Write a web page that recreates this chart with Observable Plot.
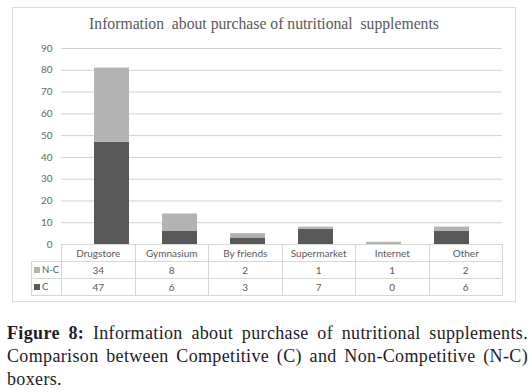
<!DOCTYPE html>
<html>
<head>
<meta charset="utf-8">
<script src="https://cdn.jsdelivr.net/npm/d3@7"></script>
<script src="https://cdn.jsdelivr.net/npm/@observablehq/plot@0.6"></script>
<style>
  html, body { margin: 0; padding: 0; background: #fff; }
  #wrap { position: relative; width: 532px; height: 392px; overflow: hidden; }
  #box { position: absolute; left: 12px; top: 7px; width: 504px; height: 295px; box-sizing: border-box; border: 1px solid #dcdcdc; }
  #title { position: absolute; left: 12px; width: 504px; top: 15px; text-align: center; font-family: "Liberation Serif", serif; font-size: 15.7px; line-height: 18px; color: #595959; white-space: pre; }
  #plot { position: absolute; left: 0; top: 40px; }
  #tbl { position: absolute; left: 31px; top: 244px; border-collapse: collapse; table-layout: fixed; font-family: Lato, sans-serif; font-size: 10px; color: #595959; }
  #tbl td { border: 1px solid #d3dad0; text-align: center; height: 16px; padding: 0; line-height: 16px; white-space: nowrap; overflow: hidden; }
  #tbl td.leg { text-align: left; padding-left: 2px; font-size: 9.5px; }
  #tbl td.blank { border-top: none; border-left: none; }
  .sw { display: inline-block; width: 6px; height: 6px; margin-right: 2px; vertical-align: 0px; }
  #caption { position: absolute; left: 7px; top: 322px; width: 521px; font-family: "Liberation Serif", serif; font-size: 18px; letter-spacing: 0.35px; line-height: 23px; color: #1c1c28; }
  #caption div { text-align: justify; text-align-last: justify; white-space: nowrap; }
  #caption div.last { text-align-last: left; }
</style>
</head>
<body>
<div id="wrap">
  <div id="box"></div>
  <div id="title"></div>
  <div id="plot"></div>
  <table id="tbl"></table>
  <div id="caption">
    <div><b>Figure 8:</b> Information about purchase of nutritional supplements.</div>
    <div>Comparison between Competitive (C) and Non-Competitive (N-C)</div>
    <div class="last">boxers.</div>
  </div>
</div>
<script>
const titleText = "Information  about purchase of nutritional  supplements";
const categories = ["Drugstore", "Gymnasium", "By friends", "Supermarket", "Internet", "Other"];
const seriesNames = ["N-C", "C"];
const valuesNC = [34, 8, 2, 1, 1, 2];
const valuesC = [47, 6, 3, 7, 0, 6];
const yTicks = [0, 10, 20, 30, 40, 50, 60, 70, 80, 90];
const seriesColors = {"C": "#595959", "N-C": "#b3b3b3"};

document.getElementById("title").textContent = titleText;

const data = categories.flatMap((c, i) => [
  {category: c, series: "C", value: valuesC[i]},
  {category: c, series: "N-C", value: valuesNC[i]}
]);

const chart = Plot.plot({
  width: 532,
  height: 210,
  marginLeft: 61,
  marginRight: 30,
  marginTop: 8,
  marginBottom: 6,
  x: {domain: categories, padding: 0.48, axis: null},
  y: {domain: [0, 90], label: null},
  color: {domain: ["C", "N-C"], range: [seriesColors["C"], seriesColors["N-C"]]},
  style: {fontFamily: "Lato, sans-serif", fontSize: "10px", color: "#595959", background: "transparent"},
  marks: [
    Plot.gridY(yTicks.filter(d => d > 0), {stroke: "#cdd6ca", strokeOpacity: 1}),
    Plot.barY(data, {x: "category", y: "value", fill: "series"}),
    Plot.axisY(yTicks, {tickSize: 0, tickPadding: 9, label: null, fill: "#666666", fontSize: 10})
  ]
});
document.getElementById("plot").appendChild(chart);

// data table
const tbl = document.getElementById("tbl");
const colgroup = document.createElement("colgroup");
[30, ...categories.map(() => 73.5)].forEach(w => {
  const col = document.createElement("col");
  col.style.width = w + "px";
  colgroup.appendChild(col);
});
tbl.appendChild(colgroup);

const head = document.createElement("tr");
const blank = document.createElement("td");
blank.className = "blank";
head.appendChild(blank);
categories.forEach(c => {
  const td = document.createElement("td");
  td.textContent = c;
  head.appendChild(td);
});
tbl.appendChild(head);

const rows = {"N-C": valuesNC, "C": valuesC};
seriesNames.forEach(s => {
  const tr = document.createElement("tr");
  const leg = document.createElement("td");
  leg.className = "leg";
  const sw = document.createElement("span");
  sw.className = "sw";
  sw.style.background = seriesColors[s];
  leg.appendChild(sw);
  leg.appendChild(document.createTextNode(s));
  tr.appendChild(leg);
  rows[s].forEach(v => {
    const td = document.createElement("td");
    td.textContent = v;
    tr.appendChild(td);
  });
  tbl.appendChild(tr);
});
</script>
</body>
</html>
